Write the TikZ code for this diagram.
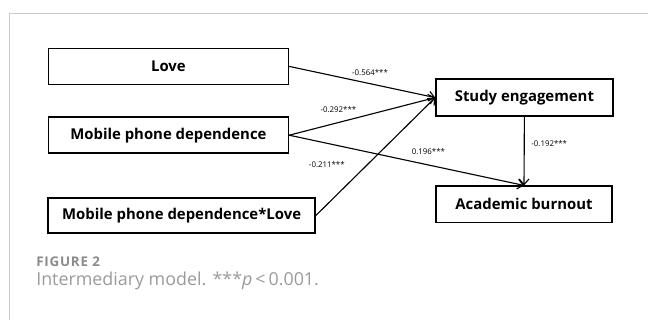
\documentclass[tikz,border=0pt]{standalone}
\usepackage{fontspec}
\setmainfont{Open Sans}
\usetikzlibrary{arrows.meta}
\definecolor{framegray}{HTML}{CCCCCC}
\definecolor{capgray}{HTML}{8A8A8A}
\definecolor{textgray}{HTML}{9A9A9A}
\tikzset{
    box/.style={draw, line width=1.1pt, minimum height=0.9cm, inner sep=0pt,
        font=\fontsize{10.6}{12}\selectfont\bfseries},
    coef/.style={inner sep=0pt, font=\fontsize{5.6}{7}\selectfont},
    link/.style={draw, line width=0.8pt, -{Straight Barb[length=4pt,width=7pt,line width=0.8pt]}}
}

\begin{document}
\begin{tikzpicture}
    \useasboundingbox (0,0) rectangle (16.2,-8);
    % card frame
    \draw [framegray, line width=0.7pt] (16.2,-0.333) -- (0.233,-0.333) -- (0.233,-8);
    \node [box, minimum width=6cm] at (4.21,-1.66) (love) {Love};
    \node [box, minimum width=6cm] at (4.21,-3.38) (mpd) {Mobile phone dependence};
    \node [box, minimum width=6.67cm, minimum height=0.88cm] at (4.54,-5.39) (inter) {Mobile phone dependence*Love};
    \node [box, minimum width=4.42cm, minimum height=0.92cm] at (13.11,-2.44) (se) {Study engagement};
    \node [box, minimum width=4.39cm, minimum height=0.91cm] at (13.10,-5.11) (ab) {Academic burnout};
    \path [link] (love.east) -- (se.west);
    \path [link] (mpd.east) -- (se.west);
    \path [link] (inter.east) -- (se.west);
    \path [link] (mpd.east) -- (ab.north);
    \path [link] (se.south) -- (ab.north);
    \node [coef] at (9.25,-1.82) (c1) {-0.564***};
    \node [coef] at (8.46,-2.75) (c2) {-0.292***};
    \node [coef] at (8.17,-4.125) (c3) {-0.211***};
    \node [coef] at (10.71,-3.79) (c4) {0.196***};
    \node [coef] at (13.73,-3.58) (c5) {-0.192***};
    % caption
    \node [anchor=base west, inner sep=0pt, text=capgray, font=\fontsize{9.5}{11}\selectfont\bfseries\addfontfeatures{LetterSpace=6}] at (0.9,-6.65) (fig) {FIGURE 2};
    \node [anchor=base west, inner sep=0pt, text=textgray, font=\fontsize{12.7}{14}\selectfont] at (0.9,-7.14) (cap) {Intermediary model. ***\textit{p}\,<\,0.001.};
\end{tikzpicture}
\end{document}
